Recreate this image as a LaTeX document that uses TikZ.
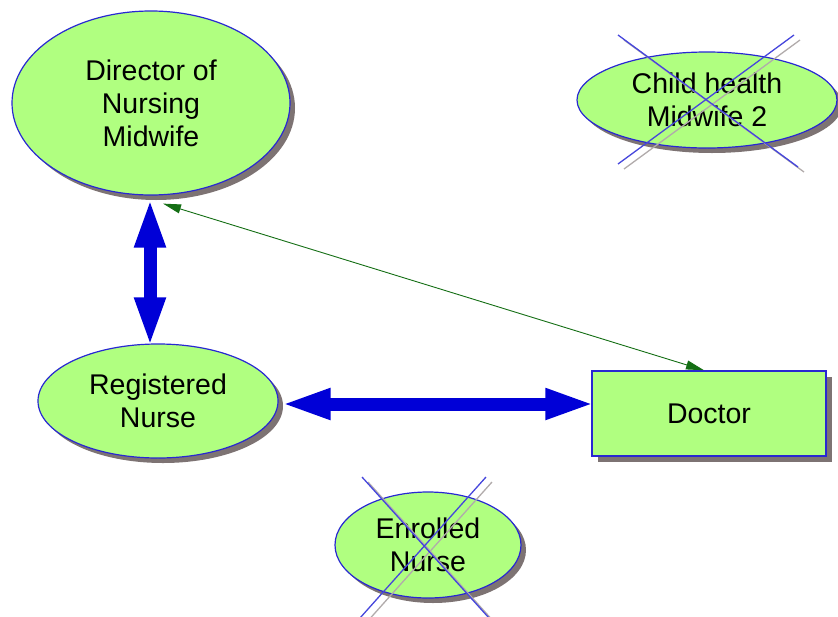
\documentclass[tikz,border=0pt]{standalone}
\usepackage{fontspec}
\setmainfont{Liberation Sans}
\usetikzlibrary{arrows.meta,shapes.geometric,shadows}
\definecolor{nodefill}{RGB}{176,255,128}
\definecolor{nodeline}{RGB}{40,40,210}
\definecolor{fatblue}{RGB}{0,0,215}
\definecolor{linkgreen}{RGB}{20,110,20}
\definecolor{shade}{RGB}{125,115,115}
\definecolor{crossblue}{RGB}{70,70,220}
\tikzset{
  role/.style={ellipse, draw=nodeline, line width=1.2pt, fill=nodefill,
    align=center, inner sep=0pt,
    font=\fontsize{28.5}{33}\selectfont,
    drop shadow={shadow xshift=5pt, shadow yshift=-5pt, fill=shade, opacity=1}},
  rolebox/.style={rectangle, draw=nodeline, line width=1.5pt, fill=nodefill,
    align=center, inner sep=0pt,
    font=\fontsize{28.5}{33}\selectfont,
    drop shadow={shadow xshift=6pt, shadow yshift=-6pt, fill=shade, opacity=1}},
  fatlink/.style={draw=fatblue, line width=13pt, shorten <=-4pt, shorten >=-4pt,
    {Triangle[length=50pt,width=28pt]}-{Triangle[length=50pt,width=28pt]}},
  thinlink/.style={draw=linkgreen, line width=0.9pt,
    {Triangle[length=18pt,width=9pt]}-{Triangle[length=18pt,width=9pt]}},
  crossline/.style={draw=crossblue, line width=1.3pt},
  crossshade/.style={draw=shade!60, line width=1.3pt}
}
\begin{document}
\begin{tikzpicture}[x=1pt,y=-1pt]
\useasboundingbox (0,0) rectangle (838,616);

% nodes
\node[role, minimum width=278pt, minimum height=184pt] (dir) at (151,103)
  {Director of\\Nursing\\Midwife};
\node[role, minimum width=260pt, minimum height=96pt] (child) at (707,100)
  {Child health\\Midwife 2};
\node[role, minimum width=240pt, minimum height=114pt] (reg) at (158,401)
  {Registered\\Nurse};
\node[rolebox, minimum width=234pt, minimum height=85pt] (doc) at (709,413.5)
  {Doctor};
\node[role, minimum width=186pt, minimum height=106pt] (enr) at (428,545)
  {Enrolled\\Nurse};

% crossed-out markers
\coordinate (c1a) at (618,35);  \coordinate (c1b) at (798,167);
\coordinate (c2a) at (794,35);  \coordinate (c2b) at (618,164);
\draw[crossshade] ([shift={(6,5)}]c1a) -- ([shift={(6,5)}]c1b);
\draw[crossshade] ([shift={(6,5)}]c2a) -- ([shift={(6,5)}]c2b);
\draw[crossline] (c1a) -- (c1b);
\draw[crossline] (c2a) -- (c2b);

\coordinate (e1a) at (362,477); \coordinate (e1b) at (489,618);
\coordinate (e2a) at (486,477); \coordinate (e2b) at (360,618);
\draw[crossshade] ([shift={(6,5)}]e1a) -- ([shift={(6,5)}]e1b);
\draw[crossshade] ([shift={(6,5)}]e2a) -- ([shift={(6,5)}]e2b);
\draw[crossline] (e1a) -- (e1b);
\draw[crossline] (e2a) -- (e2b);

% connectors
\draw[fatlink] ([xshift=-1pt,yshift=-6pt]dir.south) -- ([xshift=-8pt]reg.north);
\draw[fatlink] ([xshift=6pt,yshift=-3pt]reg.east) -- ([yshift=9.5pt]doc.west);
\draw[thinlink] ([xshift=12pt,yshift=-8pt]dir.south) -- ([xshift=-5pt]doc.north);
\end{tikzpicture}
\end{document}
